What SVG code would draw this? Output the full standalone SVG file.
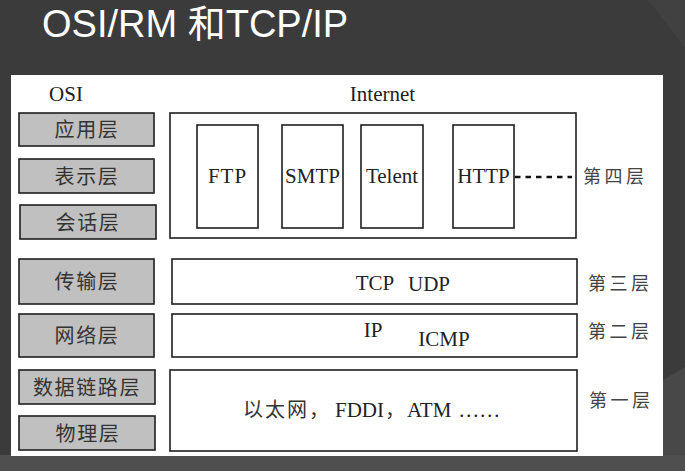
<svg xmlns="http://www.w3.org/2000/svg" width="685" height="471" viewBox="0 0 685 471">
<style>
.osi rect{fill:#c0c0c0;stroke:#1e1e1e;stroke-width:1.6}
.osi text{font-family:"Noto Sans CJK SC","Noto Sans",sans-serif;font-size:20px;fill:#333;text-anchor:middle;letter-spacing:1.6px}
.box{fill:#fff;stroke:#1e1e1e;stroke-width:1.6}
.lat{font-family:"Liberation Serif","Times New Roman",serif;font-size:21px;fill:#222}
.mid{text-anchor:middle}
.cjk{font-family:"Noto Sans CJK SC",sans-serif;font-size:20px;fill:#333}
.lvl{font-family:"Noto Sans CJK SC",sans-serif;font-size:18px;fill:#444;letter-spacing:3.5px}
</style>
<rect width="685" height="471" fill="#3b3b3b"/>
<path d="M648 0 Q668 25 685 48 L685 0 Z" fill="#414141"/>
<path d="M663 380 L685 367 L685 471 L663 471 Z" fill="#484848"/>
<rect x="0" y="455" width="685" height="16" fill="#4f4f4f"/>
<text x="42" y="36.5" font-family="Liberation Sans, 'Noto Sans CJK SC', sans-serif" font-size="38" fill="#fff">OSI/RM 和TCP/IP</text>
<rect x="11" y="75" width="652" height="381" fill="#fff"/>
<text class="lat mid" x="66" y="100.5">OSI</text>
<text class="lat mid" x="382.5" y="100.5">Internet</text>
<g id="osi-app" class="osi"><rect x="19" y="113" width="135" height="33"/><text x="87" y="137">应用层</text></g>
<g id="osi-pres" class="osi"><rect x="19" y="159" width="135" height="34"/><text x="87" y="183.5">表示层</text></g>
<g id="osi-sess" class="osi"><rect x="20" y="205" width="136" height="34"/><text x="88" y="229.5">会话层</text></g>
<g id="osi-trans" class="osi"><rect x="19" y="259" width="135" height="45"/><text x="87" y="289">传输层</text></g>
<g id="osi-net" class="osi"><rect x="19" y="314" width="135" height="43"/><text x="87" y="343">网络层</text></g>
<g id="osi-link" class="osi"><rect x="19" y="370" width="136" height="34"/><text x="87" y="394.5">数据链路层</text></g>
<g id="osi-phys" class="osi"><rect x="19" y="416" width="136" height="34"/><text x="88" y="440.5">物理层</text></g>
<g id="tcp-app"><rect class="box" x="170" y="113" width="406" height="125"/></g>
<g id="ftp"><rect class="box" x="197" y="125" width="61" height="103"/><text class="lat mid" x="227.5" y="183" letter-spacing="1">FTP</text></g>
<g id="smtp"><rect class="box" x="282" y="125" width="61" height="103"/><text class="lat mid" x="312.5" y="183">SMTP</text></g>
<g id="telent"><rect class="box" x="361" y="125" width="62" height="103"/><text class="lat mid" x="392" y="183">Telent</text></g>
<g id="http"><rect class="box" x="453" y="125" width="61" height="103"/><text class="lat mid" x="483.5" y="183">HTTP</text></g>
<g id="lvl4"><text class="lvl" x="583" y="182.5">第四层</text></g>
<g id="tcp-trans"><rect class="box" x="172" y="259" width="405" height="45"/><text class="lat mid" x="375" y="290">TCP</text><text class="lat mid" x="429" y="290.5">UDP</text></g>
<g id="lvl3"><text class="lvl" x="588" y="289.5">第三层</text></g>
<g id="tcp-net"><rect class="box" x="172" y="314" width="405" height="43"/><text class="lat mid" x="373" y="337">IP</text><text class="lat mid" x="444" y="346" font-size="17">ICMP</text></g>
<g id="lvl2"><text class="lvl" x="588" y="337.5">第二层</text></g>
<g id="tcp-link"><rect class="box" x="170" y="370" width="407" height="81"/>
<text x="243" y="417"><tspan class="cjk" letter-spacing="2">以太网，</tspan><tspan class="lat" dx="4" font-size="19">FDDI</tspan><tspan class="cjk" dx="1">，</tspan><tspan class="lat" dx="2">ATM</tspan><tspan class="lat" dx="7">……</tspan></text>
</g>
<g id="lvl1"><text class="lvl" x="589" y="406.5">第一层</text></g>
<g id="connectors"><line x1="515" y1="177" x2="572" y2="177" stroke="#111" stroke-width="2.6" stroke-dasharray="5.5 5"/></g>
</svg>
